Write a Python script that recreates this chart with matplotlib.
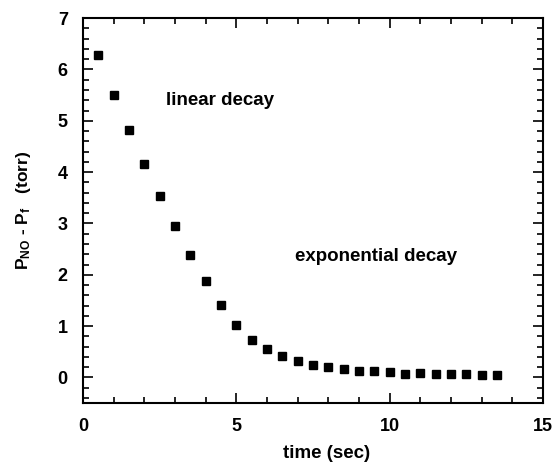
import matplotlib
matplotlib.use("Agg")
import matplotlib.pyplot as plt
from matplotlib.ticker import MultipleLocator

plt.rcParams["font.family"] = ["Liberation Sans", "DejaVu Sans"]
plt.rcParams["font.weight"] = "bold"
plt.rcParams["mathtext.fontset"] = "custom"
plt.rcParams["mathtext.rm"] = "Liberation Sans:bold"
plt.rcParams["mathtext.bf"] = "Liberation Sans:bold"
plt.rcParams["mathtext.it"] = "Liberation Sans:bold"
plt.rcParams["mathtext.default"] = "bf"

# time (sec) and pressure difference (torr)
time_s = [0.5, 1.0, 1.5, 2.0, 2.5, 3.0, 3.5, 4.0, 4.5, 5.0, 5.5, 6.0, 6.5, 7.0,
          7.5, 8.0, 8.5, 9.0, 9.5, 10.0, 10.5, 11.0, 11.5, 12.0, 12.5, 13.0, 13.5]
dp_torr = [6.28, 5.51, 4.83, 4.16, 3.53, 2.96, 2.39, 1.88, 1.42, 1.02, 0.73, 0.56,
           0.42, 0.32, 0.24, 0.20, 0.17, 0.13, 0.13, 0.10, 0.075, 0.09, 0.06, 0.07,
           0.07, 0.04, 0.04]

fig = plt.figure(figsize=(5.54, 4.66), dpi=100)
ax = fig.add_axes([0.150, 0.135, 0.830, 0.826])

ax.plot(time_s, dp_torr, linestyle="none", marker="s", markersize=6,
        color="black")

ax.set_xlim(0, 15)
ax.set_ylim(-0.5, 7)
ax.xaxis.set_major_locator(MultipleLocator(5))
ax.xaxis.set_minor_locator(MultipleLocator(1))
ax.yaxis.set_major_locator(MultipleLocator(1))
ax.yaxis.set_minor_locator(MultipleLocator(0.2))
ax.tick_params(which="both", direction="in", top=True, right=True,
               labelsize=13, width=1.2)
ax.tick_params(which="major", length=7)
ax.tick_params(which="minor", length=4)
ax.tick_params(axis="x", pad=11)
ax.tick_params(axis="y", pad=11)
for s in ax.spines.values():
    s.set_linewidth(1.5)

ax.text(2.7, 5.4, "linear decay", fontsize=13.5, fontweight="bold", va="center")
ax.text(6.9, 2.35, "exponential decay", fontsize=13.5, fontweight="bold",
        va="center")

ax.set_xlabel("time (sec)", fontsize=13.5, fontweight="bold")
ax.xaxis.set_label_coords(0.53, -0.108)
ax.set_ylabel(r"P$_{NO}$ - P$_{f}$   (torr)", fontsize=12.5, fontweight="bold")
ax.yaxis.set_label_coords(-0.11, 0.5)

fig.savefig("out.png", dpi=100)
